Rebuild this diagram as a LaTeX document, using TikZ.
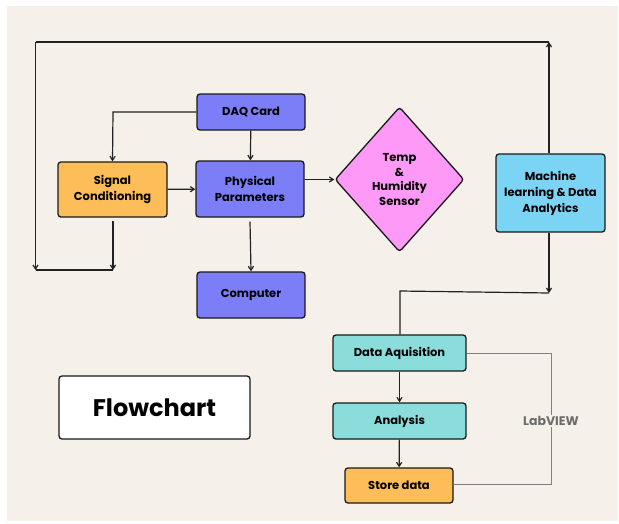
\documentclass[tikz,border=0pt]{standalone}
\usepackage{fontspec}
\setmainfont{Poppins}
\usetikzlibrary{arrows.meta,positioning,shapes.geometric}
\definecolor{paper}{HTML}{F5F1EA}
\definecolor{daqblue}{HTML}{7B7EF6}
\definecolor{sigorange}{HTML}{FDBD58}
\definecolor{sensorpink}{HTML}{FF99F7}
\definecolor{mlblue}{HTML}{7CD4F4}
\definecolor{labteal}{HTML}{8ADDDA}
\definecolor{linegrey}{HTML}{222222}

\begin{document}
\begin{tikzpicture}[
    x=1pt, y=-1pt,
    font=\bfseries\fontsize{11.5}{16}\selectfont,
    block/.style={draw=black!90, line width=1.3pt, rounded corners=3pt, align=center,
      minimum width=108pt, minimum height=36pt, inner sep=2pt},
    hardware/.style={block, fill=daqblue},
    signal/.style={block, fill=sigorange},
    software/.style={block, fill=labteal, minimum width=133pt},
    sensor/.style={diamond, draw=black!90, line width=1.3pt, rounded corners=3pt, fill=sensorpink,
      align=center, minimum width=129pt, minimum height=145pt, inner sep=0pt,
      font=\bfseries\fontsize{11.5}{14.5}\selectfont},
    arrow/.style={-{Straight Barb[length=1.4mm, width=1.8mm]}, line width=1.2pt, draw=linegrey},
    link/.style={line width=1.2pt, draw=linegrey},
    labview/.style={line width=0.9pt, draw=gray}
  ]
    \useasboundingbox (0,0) rectangle (619,523);
    \fill[white] (0,0) rectangle (619,523);
    \fill[paper] (7,6) rectangle (618,521);

    \node[hardware] (daq) at (251,112) {DAQ Card};
    \node[hardware, minimum height=56pt] (physical) at (250,189) {Physical\\Parameters};
    \node[signal, minimum width=109pt, minimum height=55pt] (signal) at (112.5,189.5) {Signal\\Conditioning};
    \node[hardware, minimum height=46pt] (computer) at (251,295) {Computer};
    \node[sensor] (sensor) at (399.5,179.5) {Temp\\\&\\Humidity\\Sensor};
    \node[block, fill=mlblue, minimum width=109pt, minimum height=78pt] (ml) at (550.5,193) {Machine\\learning \& Data\\Analytics};

    \node[software] (acquire) at (399.5,353) {Data Aquisition};
    \node[software] (analysis) at (399.5,421) {Analysis};
    \node[signal, minimum height=35pt] (store) at (399,485.5) {Store data};
    \node[block, fill=white, minimum width=191pt, minimum height=63pt,
      font=\bfseries\fontsize{24}{28}\selectfont] (title) at (154.5,407.5) {Flowchart};

    \coordinate (topright) at (549,42);
    \coordinate (topleft) at (35.5,42);
    \coordinate (bottomleft) at (35.5,270);
    \coordinate (signalout) at (113,221);
    \coordinate (bottomjoin) at (113,270);
    \coordinate (daqturn) at (113,112);
    \coordinate (mlturn) at (549,293);
    \coordinate (acqturn) at (400,291);
    \coordinate (labright) at (551,353);
    \coordinate (labbottom) at (551,484);

    \draw[arrow] (ml.north -| topright) -- (topright);
    \draw[link] (topright) -- (topleft);
    \draw[arrow] (topleft) -- (bottomleft);
    \draw[arrow] (signalout) -- (bottomjoin);
    \draw[link] (bottomleft) -- (bottomjoin);

    \draw[arrow] (daq.west) -- (daqturn) -- (signal.north);
    \draw[arrow] (daq) -- (physical);
    \draw[arrow] (signal) -- (physical);
    \draw[arrow] (physical.east |- sensor.west) -- (sensor.west);
    \draw[arrow] (physical.south) ++(0,4) -- (computer.north);

    \draw[arrow] (ml.south -| mlturn) -- (mlturn);
    \draw[link] (mlturn) -- (acqturn) -- (acquire.north -| acqturn);
    \draw[arrow] (acquire) -- (analysis);
    \draw[arrow] (analysis) -- (store);

    \draw[labview] (acquire.east) -- (labright) -- (labbottom) -- (store.east |- labbottom);
    \node[fill=paper, text=gray!85!black, inner sep=1pt,
      font=\bfseries\fontsize{12.5}{15}\selectfont] (labtext) at (551,421) {LabVIEW};
  \end{tikzpicture}
\end{document}
